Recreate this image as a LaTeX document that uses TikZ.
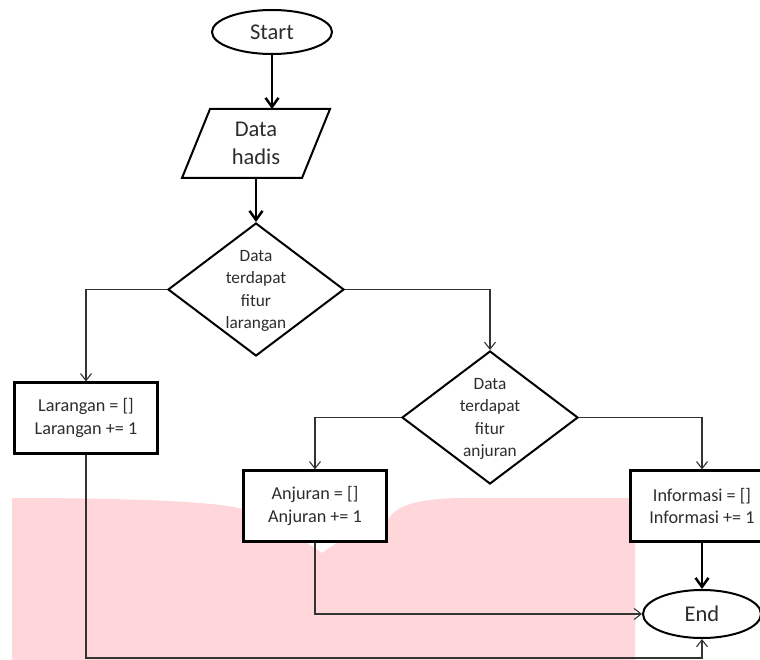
\documentclass[tikz,border=0pt]{standalone}
\usepackage{fontspec}
\setmainfont{Carlito}
\usetikzlibrary{shapes.geometric,arrows.meta}
\definecolor{pinkc}{RGB}{255,214,217}
\definecolor{txtc}{RGB}{45,45,45}
\begin{document}
\begin{tikzpicture}[x=1pt,y=-1pt,
  bigfont/.style={font=\fontsize{22.5}{28}\selectfont},
  smallfont/.style={font=\fontsize{17.3}{22.5}\selectfont},
  term/.style={ellipse, draw, line width=2pt, fill=white, inner sep=0pt,
    minimum width=120pt, minimum height=44pt, text=txtc},
  procbox/.style={rectangle, draw, line width=2.2pt, fill=white, inner sep=0pt,
    minimum width=143pt, minimum height=71pt, align=center, text=txtc,
    font=\fontsize{18.2}{22.5}\selectfont},
  decbox/.style={diamond, draw, line width=2pt, fill=white, inner sep=0pt,
    minimum width=176pt, minimum height=133pt},
  dectext/.style={align=center, text=txtc, inner sep=0pt, smallfont},
  conn/.style={line width=1.1pt, draw=black!80, -{Straight Barb[length=7pt,width=11pt,line width=1.1pt]}},
  bold/.style={line width=2.5pt, -{Straight Barb[length=9pt,width=13pt,line width=2.5pt]}},
]
\useasboundingbox (0,0) rectangle (760,660);
% pink background patch
\fill[pinkc] (12,660) -- (12,498) .. controls (150,498) and (230,503) .. (245,510)
  -- (245,542) -- (306,542) -- (322,553) -- (338,542) -- (386,542) -- (386,524)
  .. controls (392,506) and (415,499) .. (460,498) -- (635,498) -- (635,660) -- cycle;

% parallelogram
\draw[line width=2pt, fill=white] (210,109) -- (330,109) -- (302,178) -- (182,178) -- cycle;
\coordinate (datatop) at (272,109);
\coordinate (databot) at (256,178);
\coordinate (bot) at (0,658);

\node[term, bigfont] (start) at (272,32) {Start};
\node[align=center, text=txtc, inner sep=0pt, bigfont] (data) at (256,143) {Data\\hadis};

\node[decbox] (d1) at (256,289.5) {};
\node[dectext] (t1) at (256,291) {Data\\terdapat\\fitur\\larangan};

\node[decbox] (d2) at (490,417.5) {};
\node[dectext] (t2) at (490,419) {Data\\terdapat\\fitur\\anjuran};

\node[procbox] (lar) at (86,418) {Larangan = []\\Larangan += 1};
\node[procbox] (anj) at (315,506) {Anjuran = []\\Anjuran += 1};
\node[procbox] (inf) at (702,506) {Informasi = []\\Informasi += 1};

\node[term, bigfont, minimum width=118pt, minimum height=48pt] (end) at (702,614) {End};

% connectors
\draw[bold] (start.south) -- (datatop);
\draw[bold] (databot) -- (d1.north);
\draw[conn] (d1.west) -| (lar.north);
\draw[conn] (d1.east) -| (d2.north);
\draw[conn] (d2.west) -| (anj.north);
\draw[conn] (d2.east) -| (inf.north);
\draw[bold] (inf.south) -- (end.north);
\draw[conn] (anj.south) |- (end.west);
\draw[conn] (lar.south) -- (lar.south |- bot) -| (end.south);
\end{tikzpicture}
\end{document}
